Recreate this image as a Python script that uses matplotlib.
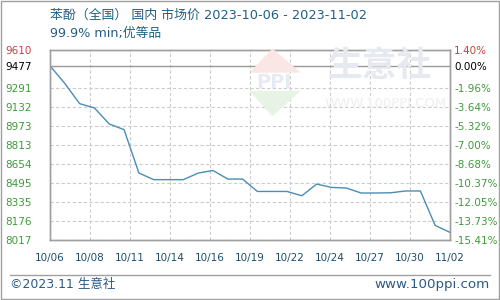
import matplotlib
matplotlib.use('Agg')
import matplotlib.pyplot as plt
import matplotlib.patches as mpl_patches
from matplotlib.lines import Line2D

plt.rcParams['font.family'] = ['DejaVu Sans', 'Noto Sans CJK SC']

# days counted from 2023-10-06
days = [0, 1, 2, 3, 4, 5, 6, 7, 8, 9, 10, 11, 12, 13, 14,
        15, 16, 17, 18, 19, 20, 21, 22, 23, 24, 25, 26, 27]
prices = [9477, 9330, 9160, 9124, 8990, 8942, 8579, 8523, 8523, 8523, 8578, 8600, 8528, 8528, 8424,
          8424, 8424, 8388, 8486, 8458, 8453, 8411, 8411, 8413, 8428, 8428, 8139, 8081]

base_price = 9477
ytick_vals = [9610, 9477, 9291.4, 9132.1, 8972.8, 8813.5, 8654.2, 8494.9, 8335.6, 8176.3, 8017]
ytick_left = ['9610', '9477', '9291', '9132', '8973', '8813', '8654', '8495', '8335', '8176', '8017']
ytick_right = ['1.40%', '0.00%', '-1.96%', '-3.64%', '-5.32%', '-7.00%',
               '-8.68%', '-10.37%', '-12.05%', '-13.73%', '-15.41%']
xtick_vals = [0, 2.7, 5.4, 8.1, 10.8, 13.5, 16.2, 18.9, 21.6, 24.3, 27]
xtick_labels = ['10/06', '10/08', '10/11', '10/14', '10/16', '10/19',
                '10/22', '10/24', '10/27', '10/30', '11/02']

title = '苯酚（全国） 国内 市场价 2023-10-06 - 2023-11-02'
subtitle = '99.9% min;优等品'

RED = '#c8403c'
GREEN = '#3f9a3a'
BLUE_TXT = '#1f5f85'
LINE = '#4a8db5'

fig = plt.figure(figsize=(5, 3), dpi=100)
ax = fig.add_axes([0.1, 0.2, 0.8, 0.6333])

# watermark (faint)
fig.text(0.655, 0.78, '生意社', fontsize=25, color='#e6e9ef', ha='left', va='center',
         fontweight='bold', zorder=0)
fig.text(0.65, 0.655, 'WWW.100PPI.COM', fontsize=9.5, color='#eceef2', ha='left', va='center', zorder=0)
wm = mpl_patches.Polygon([[0.502, 0.76], [0.545, 0.835], [0.598, 0.76]], closed=True,
                         transform=fig.transFigure, color='#fae6e4', zorder=0)
wm2 = mpl_patches.Polygon([[0.502, 0.695], [0.545, 0.615], [0.598, 0.695]], closed=True,
                          transform=fig.transFigure, color='#e6f3e5', zorder=0)
fig.patches.extend([wm, wm2])
fig.text(0.548, 0.725, 'PPI', fontsize=14, color='#e6ebf2', ha='center', va='center',
         fontweight='bold', zorder=0)
ax.patch.set_alpha(0)

for v in ytick_vals:
    if v != base_price:
        ax.axhline(v, color='#cccccc', linestyle=(0, (3, 2)), linewidth=0.8, zorder=1)
ax.axhline(base_price, color='#999999', linewidth=1, zorder=2)
for v in xtick_vals:
    ax.axvline(v, color='#cccccc', linestyle=(0, (3, 2)), linewidth=0.8, zorder=1)

ax.plot(days, prices, color=LINE, linewidth=1, zorder=3)

ax.set_xlim(0, 27)
ax.set_ylim(8017, 9610)
ax.set_yticks(ytick_vals)
ax.set_yticklabels(ytick_left)
ax.tick_params(axis='y', length=0, pad=32, labelsize=7.5)
for lbl, val in zip(ax.get_yticklabels(), ytick_vals):
    lbl.set_horizontalalignment('left')
    if val == 9610:
        lbl.set_color(RED)
    elif val == base_price:
        lbl.set_color('black')
    else:
        lbl.set_color(GREEN)

ax.set_xticks(xtick_vals)
ax.set_xticklabels(xtick_labels)
ax.tick_params(axis='x', length=0, pad=9, labelsize=7.5, labelcolor='#1d4d6b')

ax2 = ax.twinx()
ax2.set_ylim(8017, 9610)
ax2.set_yticks(ytick_vals)
ax2.set_yticklabels(ytick_right)
ax2.tick_params(axis='y', length=0, pad=3, labelsize=7.5)
for lbl, val in zip(ax2.get_yticklabels(), ytick_vals):
    if val == 9610:
        lbl.set_color(RED)
    elif val == base_price:
        lbl.set_color('black')
    else:
        lbl.set_color(GREEN)

for a in (ax, ax2):
    for s in a.spines.values():
        s.set_color('#a0a0a0')
        s.set_linewidth(1)

fig.text(0.1, 0.95, title, fontsize=9.3, color=BLUE_TXT, ha='left', va='center')
fig.text(0.1, 0.887, subtitle, fontsize=9.2, color=BLUE_TXT, ha='left', va='center')

# footer
fig.lines.append(Line2D([0.02, 0.98], [0.0833, 0.0833], transform=fig.transFigure,
                        color='#a0a0a0', linewidth=1))
fig.text(0.02, 0.053, '©2023.11 生意社', fontsize=9, color='#2b5a85', ha='left', va='center')
fig.text(0.98, 0.053, 'www.100ppi.com', fontsize=9.6, color='#2b5a85', ha='right', va='center')

fig.patches.append(mpl_patches.Rectangle((0.001, 0.002), 0.997, 0.995, transform=fig.transFigure,
                                         fill=False, edgecolor='#a0a0a0', linewidth=1))

fig.savefig('out.png', dpi=100)
